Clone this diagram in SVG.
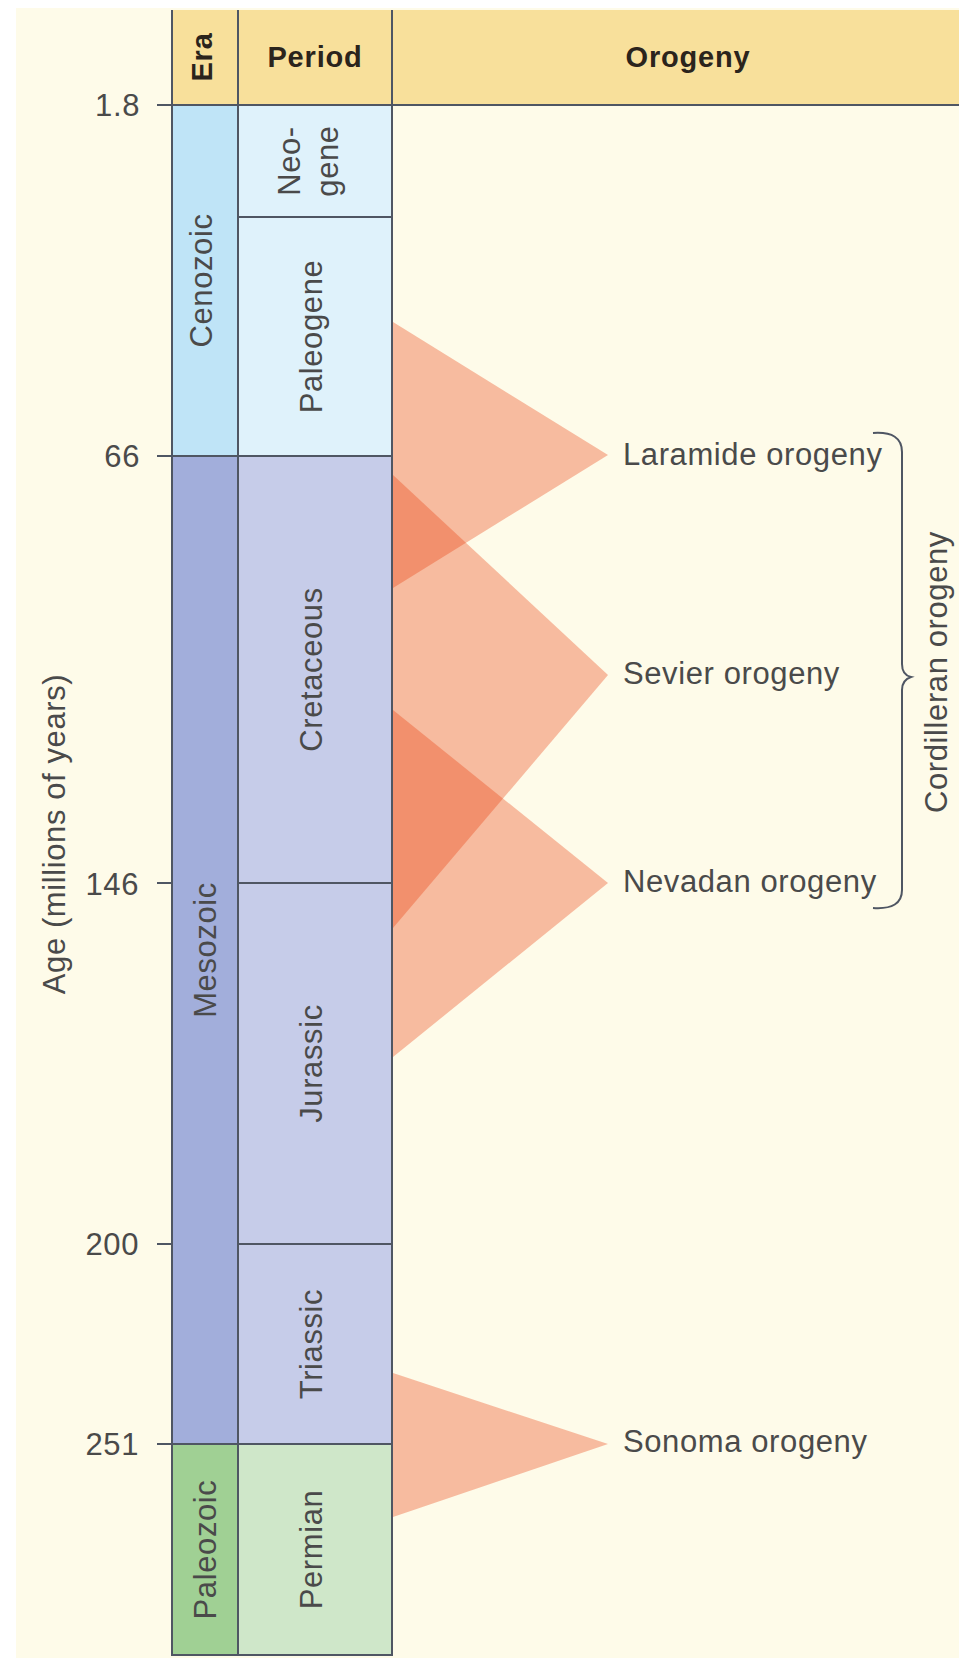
<svg xmlns="http://www.w3.org/2000/svg" width="959" height="1658" viewBox="0 0 959 1658">
<style>
  text { font-family: "Liberation Sans", Arial, sans-serif; }
  .lbl { font-size: 31px; fill: #4a4a4a; letter-spacing: 0.6px; }
  .hdr { font-size: 29px; font-weight: bold; fill: #2b241c; letter-spacing: 0.8px; }
  .cell { stroke: #4f5663; stroke-width: 2; }
  .line { stroke: #4f5663; stroke-width: 2; fill: none; }
  .tri { fill: #ea3a08; fill-opacity: 0.33; }
  .mid { text-anchor: middle; }
  .end { text-anchor: end; }
</style>
<rect x="0" y="0" width="959" height="1658" fill="#ffffff"/>
<rect x="16" y="8" width="943" height="1650" fill="#fefbe9"/>

<g id="header">
  <rect x="172" y="10" width="787" height="95" fill="#f8e09b"/>
  <text class="hdr mid" transform="translate(212,57) rotate(-90)">Era</text>
  <text class="hdr mid" x="315" y="67">Period</text>
  <text class="hdr mid" x="688" y="67">Orogeny</text>
</g>

<g id="era-cenozoic">
  <rect class="cell" x="172" y="105" width="66" height="351" fill="#bfe4f7"/>
  <text class="lbl mid" transform="translate(212,280.5) rotate(-90)">Cenozoic</text>
</g>
<g id="era-mesozoic">
  <rect class="cell" x="172" y="456" width="66" height="988" fill="#a2aedb"/>
  <text class="lbl mid" transform="translate(216,950) rotate(-90)">Mesozoic</text>
</g>
<g id="era-paleozoic">
  <rect class="cell" x="172" y="1444" width="66" height="211" fill="#a0d094"/>
  <text class="lbl mid" transform="translate(216,1549.5) rotate(-90)">Paleozoic</text>
</g>

<g id="period-neogene">
  <rect class="cell" x="238" y="105" width="154" height="112" fill="#dff2fb"/>
  <text class="lbl mid" transform="translate(300,161) rotate(-90)">Neo-</text>
  <text class="lbl mid" transform="translate(338,161) rotate(-90)">gene</text>
</g>
<g id="period-paleogene">
  <rect class="cell" x="238" y="217" width="154" height="239" fill="#dff2fb"/>
  <text class="lbl mid" transform="translate(322,336.5) rotate(-90)">Paleogene</text>
</g>
<g id="period-cretaceous">
  <rect class="cell" x="238" y="456" width="154" height="427" fill="#c6cce9"/>
  <text class="lbl mid" transform="translate(322,669.5) rotate(-90)">Cretaceous</text>
</g>
<g id="period-jurassic">
  <rect class="cell" x="238" y="883" width="154" height="361" fill="#c6cce9"/>
  <text class="lbl mid" transform="translate(322,1063.5) rotate(-90)">Jurassic</text>
</g>
<g id="period-triassic">
  <rect class="cell" x="238" y="1244" width="154" height="200" fill="#c6cce9"/>
  <text class="lbl mid" transform="translate(322,1344) rotate(-90)">Triassic</text>
</g>
<g id="period-permian">
  <rect class="cell" x="238" y="1444" width="154" height="211" fill="#cfe7c9"/>
  <text class="lbl mid" transform="translate(322,1549.5) rotate(-90)">Permian</text>
</g>

<g id="orogeny-laramide">
  <polygon class="tri" points="393,322 608,455 393,588"/>
  <text class="lbl" x="623" y="465">Laramide orogeny</text>
</g>
<g id="orogeny-sevier">
  <polygon class="tri" points="393,475 608,675 393,928"/>
  <text class="lbl" x="623" y="684">Sevier orogeny</text>
</g>
<g id="orogeny-nevadan">
  <polygon class="tri" points="393,710 608,883 393,1057"/>
  <text class="lbl" x="623" y="892">Nevadan orogeny</text>
</g>
<g id="orogeny-sonoma">
  <polygon class="tri" points="393,1373 608,1444 393,1517"/>
  <text class="lbl" x="623" y="1452">Sonoma orogeny</text>
</g>
<g id="orogeny-cordilleran">
  <text class="lbl mid" transform="translate(947,672) rotate(-90)">Cordilleran orogeny</text>
</g>

<g id="axis">
  <text class="lbl mid" transform="translate(65,834) rotate(-90)">Age (millions of years)</text>
  <text class="lbl end" x="140" y="116">1.8</text>
  <text class="lbl end" x="140" y="467">66</text>
  <text class="lbl end" x="139" y="895">146</text>
  <text class="lbl end" x="139" y="1255">200</text>
  <text class="lbl end" x="139" y="1455">251</text>
</g>

<g id="connectors">
  <line class="line" x1="172" y1="10" x2="172" y2="1655"/>
  <line class="line" x1="238" y1="10" x2="238" y2="1655"/>
  <line class="line" x1="392" y1="10" x2="392" y2="1655"/>
  <line class="line" x1="157" y1="105" x2="959" y2="105"/>
  <line class="line" x1="157" y1="456" x2="392" y2="456"/>
  <line class="line" x1="157" y1="883" x2="172" y2="883"/>
  <line class="line" x1="157" y1="1244" x2="172" y2="1244"/>
  <line class="line" x1="157" y1="1444" x2="392" y2="1444"/>
  <path class="line" stroke-width="1.8" d="M873,433 Q902,431 902,452 L902,664 Q902,675 911,677 Q902,680 902,690 L902,890 Q902,910 873,908"/>
</g>
</svg>
